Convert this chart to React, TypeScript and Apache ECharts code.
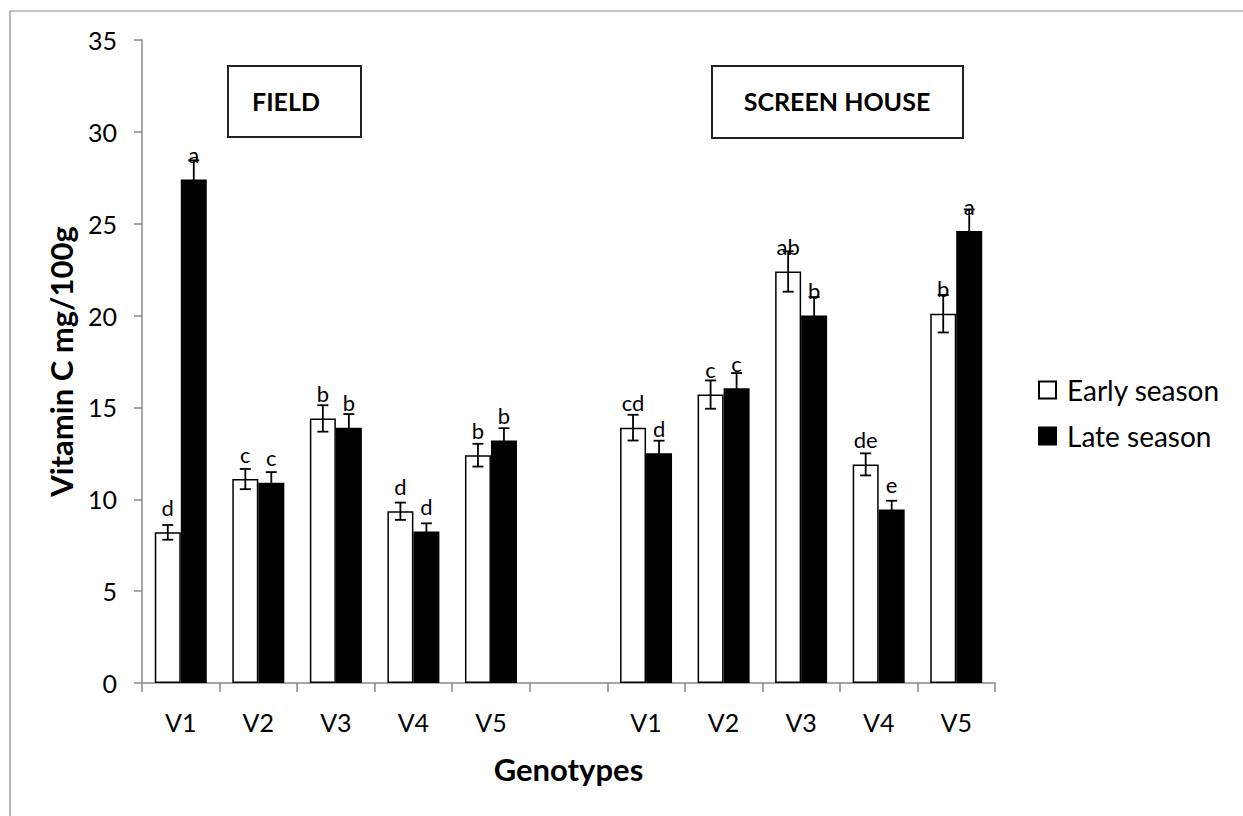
import React, { useEffect, useRef } from "react";
import * as echarts from "echarts";

// ---- data ----
const genotypes = ["V1", "V2", "V3", "V4", "V5"];
const fieldEarly = [8.2, 11.1, 14.4, 9.35, 12.4];
const fieldLate = [27.4, 10.9, 13.9, 8.25, 13.2];
const screenEarly = [13.9, 15.7, 22.4, 11.9, 20.1];
const screenLate = [12.5, 16.05, 20.0, 9.45, 24.6];
const fieldEarlyErr = [0.4, 0.55, 0.72, 0.47, 0.62];
const fieldLateErr = [1.05, 0.58, 0.74, 0.44, 0.67];
const screenEarlyErr = [0.7, 0.77, 1.1, 0.6, 1.02];
const screenLateErr = [0.69, 0.82, 1.01, 0.47, 1.18];
const fieldEarlyLetters = ["d", "c", "b", "d", "b"];
const fieldLateLetters = ["a", "c", "b", "d", "b"];
const screenEarlyLetters = ["cd", "c", "ab", "de", "b"];
const screenLateLetters = ["d", "c", "b", "e", "a"];
const seriesNames = ["Early season", "Late season"];
const groupTitles = ["FIELD", "SCREEN HOUSE"];
const yMin = 0;
const yMax = 35;
const yInterval = 5;

const FONT = "Lato, 'Open Sans', sans-serif";

export default function App() {
  const ref = useRef<HTMLDivElement>(null);

  useEffect(() => {
    if (!ref.current) return;
    const chart = echarts.init(ref.current, undefined, { renderer: "svg" });

    const catKeys = [
      ...genotypes.map((g) => "F-" + g),
      "gap",
      ...genotypes.map((g) => "S-" + g),
    ];
    const catLabel = (k: string) => (k === "gap" ? "" : k.slice(2));

    const early = [...fieldEarly, "-", ...screenEarly];
    const late = [...fieldLate, "-", ...screenLate];
    const earlyErr = [...fieldEarlyErr, 0, ...screenEarlyErr];
    const lateErr = [...fieldLateErr, 0, ...screenLateErr];
    const earlyLetters = [...fieldEarlyLetters, "", ...screenEarlyLetters];
    const lateLetters = [...fieldLateLetters, "", ...screenLateLetters];

    const barW = 26;

    const errSeries = (vals: any[], errs: number[], offset: number) => ({
      type: "custom",
      z: 5,
      silent: true,
      data: vals
        .map((v, i) => (v === "-" ? null : [i, v, errs[i]]))
        .filter((d) => d !== null),
      encode: { x: 0, y: 1 },
      renderItem: (_p: any, api: any) => {
        const idx = api.value(0);
        const v = api.value(1);
        const e = api.value(2);
        const hi = api.coord([idx, v + e]);
        const lo = api.coord([idx, v - e]);
        const x = hi[0] + offset;
        const cap = 5.5;
        const style = { stroke: "#000", lineWidth: 1.8 };
        return {
          type: "group",
          children: [
            { type: "line", shape: { x1: x, y1: hi[1], x2: x, y2: lo[1] }, style },
            { type: "line", shape: { x1: x - cap, y1: hi[1], x2: x + cap, y2: hi[1] }, style },
            { type: "line", shape: { x1: x - cap, y1: lo[1], x2: x + cap, y2: lo[1] }, style },
          ],
        };
      },
    });

    const labelCfg = (letters: string[]) => ({
      show: true,
      position: "top",
      distance: 14,
      fontFamily: FONT,
      fontSize: 22,
      color: "#000",
      formatter: (p: any) => letters[p.dataIndex],
    });

    chart.setOption({
      animation: false,
      backgroundColor: "#fff",
      textStyle: { fontFamily: FONT },
      grid: { left: 142, right: 248, top: 40, bottom: 133, containLabel: false },
      legend: {
        orient: "vertical",
        left: 1033,
        top: 371,
        itemWidth: 17,
        itemHeight: 17,
        itemGap: 18,
        icon: "rect",
        selectedMode: false,
        textStyle: { fontFamily: FONT, fontSize: 28, color: "#000", padding: [0, 0, 0, 6] },
        data: seriesNames,
      },
      xAxis: {
        type: "category",
        data: catKeys,
        name: "Genotypes",
        nameLocation: "middle",
        nameGap: 70,
        nameTextStyle: { fontFamily: FONT, fontSize: 31, fontWeight: "bold", color: "#000" },
        axisLine: { lineStyle: { color: "#888", width: 1.5 } },
        axisTick: { show: true, length: 9, interval: 0, lineStyle: { color: "#888", width: 1.5 } },
        axisLabel: {
          interval: 0,
          margin: 26,
          fontSize: 25,
          color: "#000",
          fontFamily: FONT,
          formatter: (v: string) => catLabel(v),
        },
        splitLine: { show: false },
      },
      yAxis: {
        type: "value",
        min: yMin,
        max: yMax,
        interval: yInterval,
        name: "Vitamin C mg/100g",
        nameLocation: "middle",
        nameGap: 66,
        nameTextStyle: { fontFamily: FONT, fontSize: 31, fontWeight: "bold", color: "#000" },
        axisLine: { show: true, lineStyle: { color: "#888", width: 1.5 } },
        axisTick: { show: true, length: 8, lineStyle: { color: "#888", width: 1.5 } },
        axisLabel: { margin: 25, fontSize: 25, color: "#000", fontFamily: FONT },
        splitLine: { show: false },
      },
      series: [
        {
          name: seriesNames[0],
          type: "bar",
          data: early,
          barWidth: barW,
          barGap: "0%",
          itemStyle: { color: "#fff", borderColor: "#000", borderWidth: 1.5 },
          label: labelCfg(earlyLetters),
          emphasis: { disabled: true },
        },
        {
          name: seriesNames[1],
          type: "bar",
          data: late,
          barWidth: barW,
          barGap: "0%",
          itemStyle: { color: "#000", borderColor: "#000", borderWidth: 1.5 },
          label: labelCfg(lateLetters),
          emphasis: { disabled: true },
        },
        errSeries(early, earlyErr, -barW / 2),
        errSeries(late, lateErr, barW / 2),
      ],
      graphic: [
        {
          type: "rect",
          z: -1,
          shape: { x: 10, y: 11, width: 1245, height: 820 },
          style: { fill: "none", stroke: "#888", lineWidth: 1.2 },
          silent: true,
        },
        {
          type: "rect",
          shape: { x: 228, y: 66, width: 133, height: 71 },
          style: { fill: "#fff", stroke: "#222", lineWidth: 2 },
          silent: true,
        },
        {
          type: "text",
          x: 252,
          y: 101,
          style: {
            text: groupTitles[0],
            fontFamily: FONT,
            fontSize: 25,
            fontWeight: "bold",
            fill: "#000",
            verticalAlign: "middle",
            align: "left",
          },
          silent: true,
        },
        {
          type: "rect",
          shape: { x: 712, y: 66, width: 251, height: 72 },
          style: { fill: "#fff", stroke: "#222", lineWidth: 2 },
          silent: true,
        },
        {
          type: "text",
          x: 837,
          y: 101,
          style: {
            text: groupTitles[1],
            fontFamily: FONT,
            fontSize: 25,
            fontWeight: "bold",
            fill: "#000",
            verticalAlign: "middle",
            align: "center",
          },
          silent: true,
        },
      ],
    });

    return () => chart.dispose();
  }, []);

  return (
    <div
      ref={ref}
      style={{ position: "fixed", left: 0, top: 0, width: 1243, height: 816 }}
    />
  );
}
